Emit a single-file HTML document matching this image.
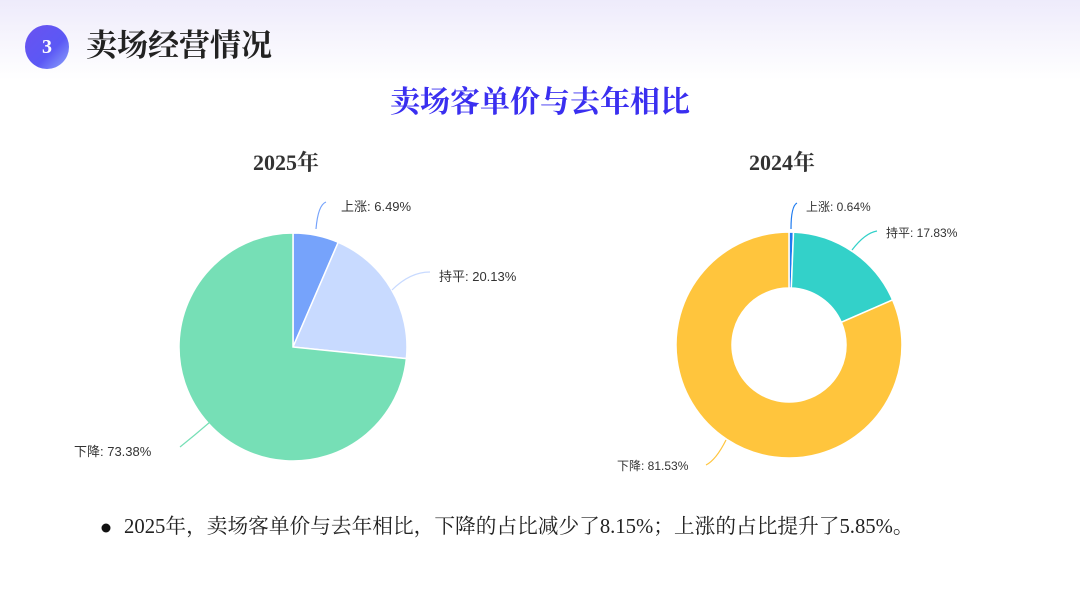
<!DOCTYPE html>
<html><head><meta charset="utf-8"><style>
body{margin:0;width:1080px;height:608px;overflow:hidden;background:linear-gradient(180deg,#eeebfb 0%,#ffffff 80px);position:relative;font-family:"Liberation Serif","Noto Serif CJK SC",serif}
.t{position:absolute;white-space:nowrap}
</style></head><body>
<div style="position:absolute;left:25px;top:25px;width:44px;height:44px;border-radius:50%;background:linear-gradient(135deg,#6a52f0,#5b58f5 60%,#8fa6fb);color:#fff;font-size:20px;font-weight:bold;text-align:center;line-height:44px">3</div>
<div class="t" style="left:86px;top:27px;font-size:31px;font-weight:bold;color:#222;line-height:38px">卖场经营情况</div>
<div class="t" style="left:0;width:1080px;text-align:center;top:84px;font-size:30px;font-weight:bold;color:#3a2ff0;line-height:38px">卖场客单价与去年相比</div>
<div class="t" style="left:253px;top:148px;font-size:22px;font-weight:bold;color:#333;line-height:30px">2025年</div>
<div class="t" style="left:749px;top:148px;font-size:22px;font-weight:bold;color:#333;line-height:30px">2024年</div>
<svg width="1080" height="608" style="position:absolute;left:0;top:0" font-family="Liberation Sans, Noto Sans CJK SC, sans-serif">
<g stroke="#fff" stroke-width="1.5">
<path d="M293,347 L293,233 A114,114 0 0 1 338.2,242.3 Z" fill="#76a3fb"/>
<path d="M293,347 L338.2,242.3 A114,114 0 0 1 406.4,358.6 Z" fill="#c8daff"/>
<path d="M293,347 L406.4,358.6 A114,114 0 1 1 293,233 Z" fill="#76dfb6"/>
<path d="M789,232 A113,113 0 0 1 793.5,232.1 L791.3,288 A57,57 0 0 0 789,288 Z" fill="#1e7bf0"/>
<path d="M793.5,232.1 A113,113 0 0 1 892.6,299.9 L841.3,322.3 A57,57 0 0 0 791.3,288 Z" fill="#33d1c9"/>
<path d="M892.6,299.9 A113,113 0 1 1 789,232 L789,288 A57,57 0 1 0 841.3,322.3 Z" fill="#ffc53d"/>
</g>
<g fill="none" stroke-width="1.2">
<path d="M316,229 Q318,205 326,202" stroke="#76a3fb"/>
<path d="M392,290 Q410,272 430,272" stroke="#c8daff"/>
<path d="M180,447 Q195,435 210,422" stroke="#76dfb6"/>
<path d="M791,229 Q791,206 797,203" stroke="#1e7bf0"/>
<path d="M852,250 Q865,233 877,231" stroke="#33d1c9"/>
<path d="M706,465 Q716,460 726,440" stroke="#ffc53d"/>
</g>
<g font-size="13" fill="#333">
<text x="341" y="211">上涨: 6.49%</text>
<text x="439" y="281">持平: 20.13%</text>
<text x="74" y="456">下降: 73.38%</text>
<text x="806" y="211" font-size="12">上涨: 0.64%</text>
<text x="886" y="237" font-size="12">持平: 17.83%</text>
<text x="617" y="470" font-size="12">下降: 81.53%</text>
</g>
<circle cx="106" cy="528" r="4.5" fill="#111"/>
</svg>
<div class="t" style="left:124px;top:514px;font-size:20.7px;color:#222;line-height:26px">2025年，卖场客单价与去年相比，下降的占比减少了8.15%；上涨的占比提升了5.85%。</div>
</body></html>
